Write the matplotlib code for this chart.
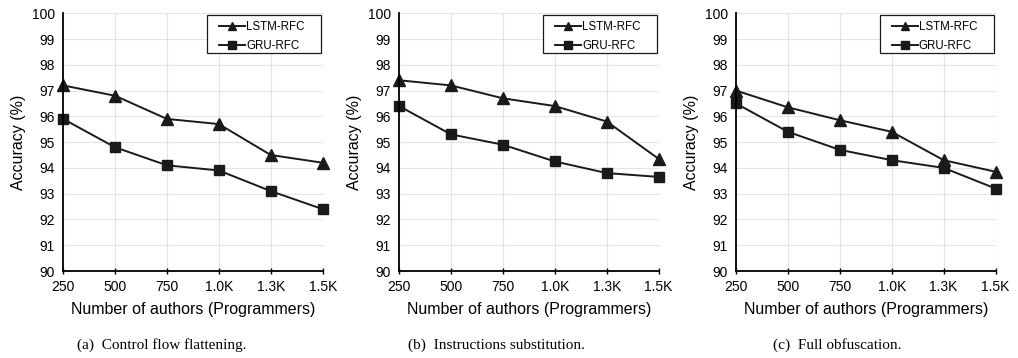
import numpy as np
import matplotlib

matplotlib.use("Agg")
import matplotlib.pyplot as plt
from matplotlib.patches import Rectangle

plt.rcParams.update({
    "font.family": ["Liberation Sans", "DejaVu Sans"],
    "font.size": 10,
})

authors = ["250", "500", "750", "1.0K", "1.3K", "1.5K"]
captions = ["(a)  Control flow flattening.",
            "(b)  Instructions substitution.",
            "(c)  Full obfuscation."]

lstm_cff = [97.2, 96.8, 95.9, 95.7, 94.5, 94.2]
gru_cff = [95.9, 94.8, 94.1, 93.9, 93.1, 92.4]
lstm_sub = [97.4, 97.2, 96.7, 96.4, 95.8, 94.35]
gru_sub = [96.4, 95.3, 94.9, 94.25, 93.8, 93.65]
lstm_full = [97.0, 96.35, 95.85, 95.4, 94.3, 93.85]
gru_full = [96.5, 95.4, 94.7, 94.3, 94.0, 93.2]

panels = ((lstm_cff, gru_cff), (lstm_sub, gru_sub), (lstm_full, gru_full))
lefts = (0.062, 0.392, 0.723)
cap_x = (0.159, 0.488, 0.822)
INK = "#1a1a1a"

fig = plt.figure(figsize=(10.18, 3.58), dpi=100)
x = np.arange(len(authors))
for left, (lstm, gru), cap, cx in zip(lefts, panels, captions, cap_x):
    ax = fig.add_axes([left, 0.243, 0.255, 0.72])
    ax.plot(x, lstm, "-^", color=INK, lw=1.4, ms=8, clip_on=False,
            label="LSTM-RFC")
    ax.plot(x, gru, "-s", color=INK, lw=1.4, ms=7.5, clip_on=False,
            label="GRU-RFC")
    ax.set_xlim(0, len(authors) - 1)
    ax.set_ylim(90, 100)
    ax.set_yticks(range(90, 101))
    ax.set_xticks(x, authors)
    ax.grid(True, color="#e4e4e4", lw=0.8)
    ax.set_axisbelow(True)
    for s in ("top", "right"):
        ax.spines[s].set_visible(False)
    for s in ("left", "bottom"):
        ax.spines[s].set_linewidth(1.3)
    ax.tick_params(axis="y", length=0, pad=6, labelsize=10)
    ax.tick_params(axis="x", length=5, direction="inout", width=1.0,
                   pad=4, labelsize=10)
    ax.set_ylabel("Accuracy (%)", fontsize=11.5, labelpad=4)
    ax.set_xlabel("Number of authors (Programmers)", fontsize=11.5, labelpad=6)

    # legend box drawn by hand: wide side padding like the original
    ax.add_patch(Rectangle((0.554, 0.846), 0.438, 0.146, transform=ax.transAxes,
                           facecolor="white", edgecolor=INK, lw=0.9, zorder=4))
    leg = ax.legend(loc="upper left", bbox_to_anchor=(0.6, 0.97), frameon=False,
                    fontsize=8.3, markerscale=0.7, handlelength=2.3,
                    handletextpad=0.05, borderpad=0, borderaxespad=0,
                    labelspacing=0.6)
    leg.set_zorder(5)
    fig.text(cx, 0.036, cap, ha="center", va="center",
             fontsize=11, family=["Liberation Serif", "DejaVu Serif"])

fig.savefig("out.png", dpi=100)
